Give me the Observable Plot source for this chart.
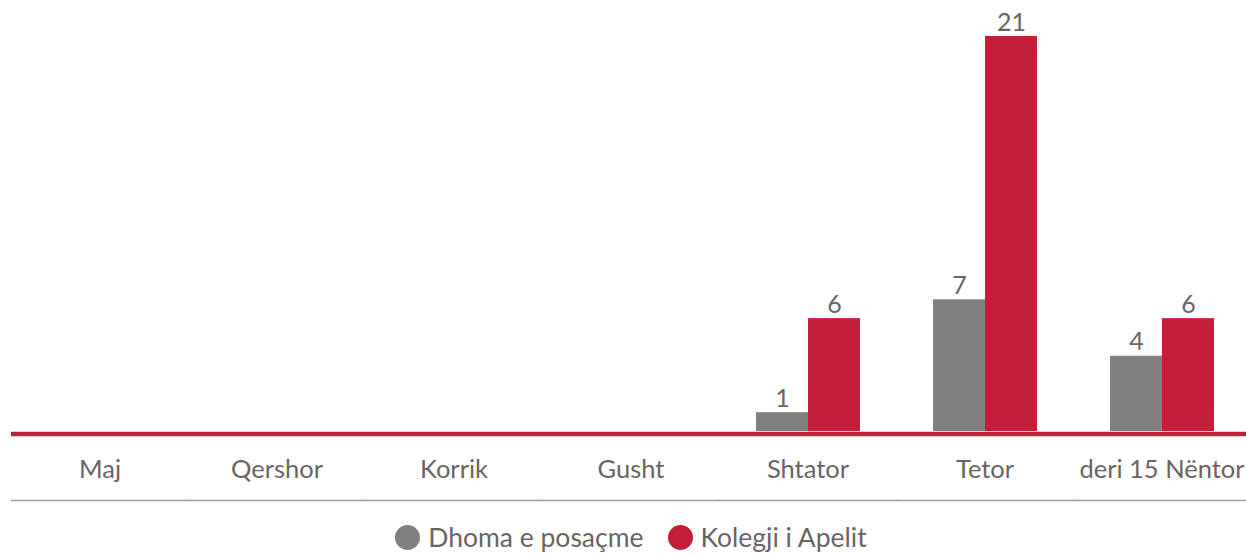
<!DOCTYPE html>
<html>
<head>
<meta charset="utf-8">
<script src="https://cdn.jsdelivr.net/npm/d3@7"></script>
<script src="https://cdn.jsdelivr.net/npm/@observablehq/plot@0.6"></script>
<style>
  html, body { margin: 0; padding: 0; background: #fff; overflow: hidden; }
  body { width: 1246px; font-family: "Lato", "Open Sans", sans-serif; }
  #chart { width: 1246px; height: 510px; overflow: hidden; }
  #chart svg { max-width: none !important; display: block; }
  #legend { display: flex; justify-content: center; align-items: center; gap: 24px; margin-top: 11px; padding-left: 16px; font-size: 26.5px; color: #6b6464; }
  #legend .item { display: flex; align-items: center; gap: 8px; }
  #legend .sw { width: 25px; height: 25px; border-radius: 50%; display: inline-block; }
</style>
</head>
<body>
<div id="chart"></div>
<div id="legend"></div>
<script>
const categories = ["Maj", "Qershor", "Korrik", "Gusht", "Shtator", "Tetor", "deri 15 Nëntor"];
const seriesNames = ["Dhoma e posaçme", "Kolegji i Apelit"];
const dhoma = [0, 0, 0, 0, 1, 7, 4];
const kolegji = [0, 0, 0, 0, 6, 21, 6];
const colors = ["#808080", "#c41e3a"];
const textColor = "#6b6464";

const data = categories.flatMap((c, i) => [
  {category: c, series: seriesNames[0], value: dhoma[i]},
  {category: c, series: seriesNames[1], value: kolegji[i]}
]);

const chart = Plot.plot({
  width: 1251,
  height: 510,
  marginLeft: 10,
  marginRight: 0,
  marginTop: 36,
  marginBottom: 79,
  style: {fontFamily: "Lato, 'Open Sans', sans-serif", background: "#fff"},
  fx: {domain: categories, padding: 0, label: null},
  x: {domain: seriesNames, paddingInner: 0, paddingOuter: 0.67, axis: null},
  y: {domain: [0, 21], axis: null},
  color: {domain: seriesNames, range: colors},
  marks: [
    Plot.barY(data, {fx: "category", x: "series", y: "value", fill: "series"}),
    Plot.ruleY([0], {stroke: colors[1], strokeWidth: 4.5, dy: 2.5}),
    Plot.text(data.filter(d => d.value > 0), {
      fx: "category", x: "series", y: "value", text: d => String(d.value),
      dy: -14, fontSize: 25, fill: textColor
    }),
    Plot.axisFx({anchor: "bottom", tickSize: 0, tickPadding: 28, fontSize: 25.5, fill: textColor, label: null}),
    Plot.frame({anchor: "bottom", stroke: "#a0a0a0", strokeWidth: 1.5, dy: 69})
  ]
});
chart.style.maxWidth = "none";
document.getElementById("chart").appendChild(chart);

const legend = document.getElementById("legend");
seriesNames.forEach((s, i) => {
  const item = document.createElement("div");
  item.className = "item";
  const sw = document.createElement("span");
  sw.className = "sw";
  sw.style.background = colors[i];
  const label = document.createElement("span");
  label.textContent = s;
  item.appendChild(sw);
  item.appendChild(label);
  legend.appendChild(item);
});
</script>
</body>
</html>
